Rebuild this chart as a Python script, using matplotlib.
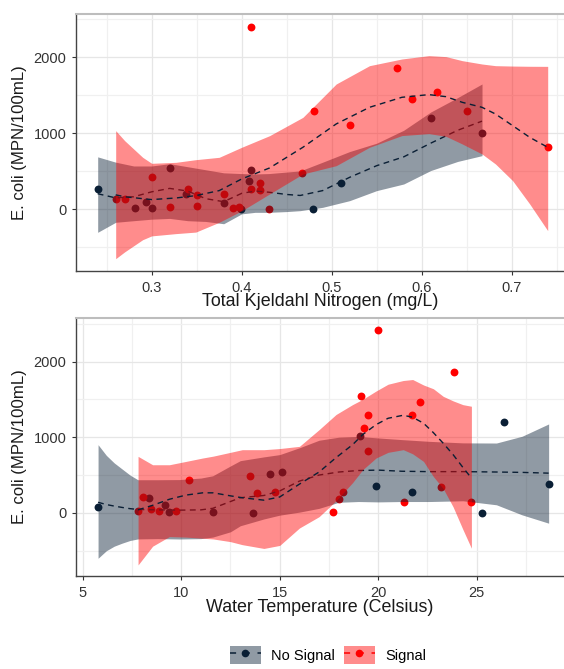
import matplotlib
matplotlib.use("Agg")
import matplotlib.pyplot as plt
from matplotlib.patches import Patch
from matplotlib.lines import Line2D
from matplotlib.legend_handler import HandlerTuple
from matplotlib.ticker import MultipleLocator, FuncFormatter

plt.rcParams['font.family'] = ['Liberation Sans', 'DejaVu Sans']

# ---------------- Total Kjeldahl Nitrogen panel ----------------
tkn_nosig_x = [0.240, 0.281, 0.294, 0.300, 0.320, 0.338, 0.380, 0.399, 0.4085, 0.410,
               0.479, 0.510, 0.610, 0.667]
tkn_nosig_y = [271, 17, 92, 17, 539, 197, 79, 0, 376, 517, 0, 346, 1197, 1004]

tkn_sig_x = [0.260, 0.270, 0.300, 0.320, 0.340, 0.350, 0.350, 0.380, 0.390, 0.397,
             0.410, 0.410, 0.420, 0.420, 0.430, 0.467, 0.480, 0.520, 0.572, 0.589,
             0.617, 0.650, 0.740]
tkn_sig_y = [131, 131, 429, 26, 267, 188, 39, 201, 17, 26, 2403, 263, 342, 254, 4,
             482, 1293, 1113, 1863, 1455, 1539, 1293, 816]

# loess fits with confidence bands
tkn_fit_nosig_x = [0.240, 0.260, 0.280, 0.300, 0.320, 0.340, 0.360, 0.380, 0.400, 0.415,
                   0.430, 0.450, 0.465, 0.490, 0.520, 0.550, 0.580, 0.610, 0.640, 0.667]
tkn_fit_nosig = [205, 150, 165, 230, 275, 240, 140, 100, 210, 240,
                 225, 195, 182, 246, 421, 574, 690, 870, 1040, 1160]
tkn_lo_nosig = [-303, -171, -150, -130, -120, -150, -160, -190, -60, -40,
                -40, -30, -18, 26, 114, 246, 333, 510, 630, 706]
tkn_hi_nosig = [690, 620, 570, 570, 600, 560, 520, 480, 470, 465,
                470, 490, 505, 620, 760, 870, 1040, 1280, 1470, 1649]

tkn_fit_sig_x = [0.260, 0.270, 0.290, 0.300, 0.327, 0.349, 0.375, 0.400, 0.431, 0.468,
                 0.505, 0.542, 0.578, 0.608, 0.627, 0.645, 0.667, 0.682, 0.701, 0.720,
                 0.740]
tkn_fit_sig = [190, 165, 140, 128, 149, 180, 246, 399, 544, 816,
               1123, 1342, 1474, 1509, 1482, 1408, 1342, 1254, 1101, 947, 816]
tkn_hi_sig = [1035, 903, 684, 605, 618, 653, 684, 816, 969, 1210,
              1649, 1890, 1978, 2022, 2009, 1956, 1912, 1890, 1885, 1882, 1881]
tkn_lo_sig = [-650, -560, -400, -350, -320, -300, -171, -20, 202, 465,
              574, 816, 970, 996, 960, 860, 728, 596, 377, 70, -281]

# ---------------- Water Temperature panel ----------------
temp_nosig_x = [5.78, 8.35, 9.16, 9.40, 11.60, 13.66, 14.51, 15.10, 19.06, 19.89,
                21.72, 25.27, 26.37, 28.65]
temp_nosig_y = [80, 195, 98, 18, 18, 0, 520, 543, 1012, 358, 274, 0, 1197, 380]

temp_sig_x = [7.81, 8.04, 8.48, 8.86, 9.72, 10.41, 13.49, 13.86, 14.75, 17.71,
              18.03, 18.23, 19.14, 19.26, 19.48, 19.50, 19.97, 21.33, 21.72, 22.12,
              23.17, 23.85, 24.73]
temp_sig_y = [27, 208, 54, 27, 27, 429, 486, 268, 276, 18, 190, 270, 1546, 1122,
              822, 1299, 2411, 138, 1299, 1462, 341, 1868, 138]

temp_fit_nosig_x = [5.78, 6.2, 6.6, 7.0, 7.4, 7.8, 8.8, 9.9, 11.0, 11.6, 12.5, 13.0,
                    14.2, 15.0, 16.0, 17.0, 18.0, 19.0, 20.0, 21.2, 22.6, 24.3, 26.0,
                    27.3, 28.65]
temp_fit_nosig = [140, 110, 90, 72, 56, 45, 40, 36, 40, 60, 150, 200,
                  230, 290, 420, 500, 540, 560, 565, 550, 545, 545, 540,
                  535, 525]
temp_hi_nosig = [901, 760, 660, 580, 500, 438, 438, 440, 460, 490, 620, 690,
                 740, 770, 860, 960, 1000, 1010, 990, 968, 945, 925, 923,
                 1012, 1175]
temp_lo_nosig = [-600, -500, -440, -400, -365, -344, -340, -345, -340, -320, -250, -170,
                 -80, -30, 10, 60, 140, 150, 145, 150, 150, 160, 107,
                 -26, -136]

temp_fit_sig_x = [7.81, 8.55, 9.4, 10.24, 11.09, 11.63, 12.5, 13.1, 14.2, 15.0, 16.0,
                  17.0, 17.86, 18.7, 19.21, 19.89, 20.5, 21.27, 21.75, 22.3, 22.8,
                  23.3, 23.8, 24.3, 24.73]
temp_fit_sig = [40, 100, 180, 235, 265, 265, 225, 200, 168, 210, 380,
                540, 730, 901, 1034, 1166, 1250, 1290, 1263, 1185, 1060,
                920, 770, 600, 460]
temp_hi_sig = [747, 636, 636, 680, 725, 750, 800, 835, 835, 850, 879,
               1100, 1300, 1431, 1500, 1610, 1700, 1749, 1762, 1690, 1640,
               1540, 1480, 1430, 1409]
temp_lo_sig = [-688, -440, -313, -320, -335, -345, -380, -420, -470, -430, -200,
               -50, 160, 400, 570, 725, 800, 835, 780, 680, 480,
               320, 80, -220, -467]

NAVY = '#0a1f35'
RED = '#ff0000'
BAND_ALPHA = 0.45
DASH = (0, (4.2, 3.2))

W, H = 564, 669
fig = plt.figure(figsize=(W / 100, H / 100), dpi=100)


def panel(rect_px, xlim, ylim, xmaj, xmin, xlabel,
          nx, ny, sx, sy, fnx, fn, fnlo, fnhi, fsx, fs, fslo, fshi):
    l, t, r, b = rect_px
    ax = fig.add_axes([l / W, 1 - b / H, (r - l) / W, (b - t) / H])
    ax.set_xlim(*xlim)
    ax.set_ylim(*ylim)
    ax.set_axisbelow(True)

    ax.scatter(nx, ny, s=32, color=NAVY, linewidths=0, zorder=2)
    ax.scatter(sx, sy, s=32, color=RED, linewidths=0, zorder=2)

    ax.fill_between(fnx, fnlo, fnhi, color=NAVY, alpha=BAND_ALPHA, linewidth=0, zorder=3)
    ax.plot(fnx, fn, color=NAVY, lw=1.0, ls=DASH, zorder=4)
    ax.fill_between(fsx, fslo, fshi, color=RED, alpha=BAND_ALPHA, linewidth=0, zorder=5)
    ax.plot(fsx, fs, color=NAVY, lw=1.0, ls=DASH, zorder=6)

    ax.xaxis.set_major_locator(MultipleLocator(xmaj))
    ax.xaxis.set_minor_locator(MultipleLocator(xmin))
    ax.yaxis.set_major_locator(MultipleLocator(1000))
    ax.yaxis.set_minor_locator(MultipleLocator(500))
    ax.grid(which='major', color='#e6e6e6', lw=0.9)
    ax.grid(which='minor', color='#f0f0f0', lw=0.9)

    ax.tick_params(which='major', direction='out', length=3, width=0.8,
                   color='#333333', labelsize=10.5, labelcolor='#333333', pad=4)
    ax.tick_params(which='minor', length=0)

    for side in ('left', 'bottom'):
        ax.spines[side].set_color('#444444')
        ax.spines[side].set_linewidth(1.0)
    ax.spines['top'].set_color('#bdbdbd')
    ax.spines['top'].set_linewidth(1.5)
    ax.spines['right'].set_visible(False)

    ax.set_xlabel(xlabel, fontsize=12.9, color='#1a1a1a')
    ax.xaxis.label.set_va('center')
    ax.xaxis.set_label_coords(0.5, -31 / (b - t))
    ax.set_ylabel('E. coli (MPN/100mL)', fontsize=12.1, color='#1a1a1a')
    ax.yaxis.label.set_va('center')
    ax.yaxis.set_label_coords(-56 / (r - l), 0.5)
    return ax


ax1 = panel((76, 14, 564, 271), (0.2159, 0.7581), (-812, 2570), 0.1, 0.05,
            'Total Kjeldahl Nitrogen (mg/L)',
            tkn_nosig_x, tkn_nosig_y, tkn_sig_x, tkn_sig_y,
            tkn_fit_nosig_x, tkn_fit_nosig, tkn_lo_nosig, tkn_hi_nosig,
            tkn_fit_sig_x, tkn_fit_sig, tkn_lo_sig, tkn_hi_sig)
ax1.xaxis.set_major_formatter(FuncFormatter(lambda v, p: f'{v:.1f}'))

ax2 = panel((76, 318, 564, 576), (4.66, 29.43), (-834, 2575), 5, 2.5,
            'Water Temperature (Celsius)',
            temp_nosig_x, temp_nosig_y, temp_sig_x, temp_sig_y,
            temp_fit_nosig_x, temp_fit_nosig, temp_lo_nosig, temp_hi_nosig,
            temp_fit_sig_x, temp_fit_sig, temp_lo_sig, temp_hi_sig)

# legend: band swatch with a "- o -" line-and-point key overlaid
KEY_DASH = (0, (4, 5))
h_nosig = (Patch(facecolor=NAVY, alpha=BAND_ALPHA, edgecolor='none'),
           Line2D([], [], color=NAVY, lw=1.1, ls=KEY_DASH, marker='o', ms=5.5,
                  markeredgewidth=0))
h_sig = (Patch(facecolor=RED, alpha=BAND_ALPHA, edgecolor='none'),
         Line2D([], [], color=RED, lw=1.1, ls=KEY_DASH, marker='o', ms=5.5,
                markeredgewidth=0))
fig.legend([h_nosig, h_sig], ['No Signal', 'Signal'],
           handler_map={tuple: HandlerTuple(ndivide=1, pad=0)},
           loc='center', bbox_to_anchor=(328 / W, 1 - 655 / H), ncol=2, frameon=False,
           fontsize=10.5, handlelength=2.1, handleheight=1.55, handletextpad=0.7,
           columnspacing=0.65, borderpad=0.2)

fig.savefig('out.png', dpi=100)
